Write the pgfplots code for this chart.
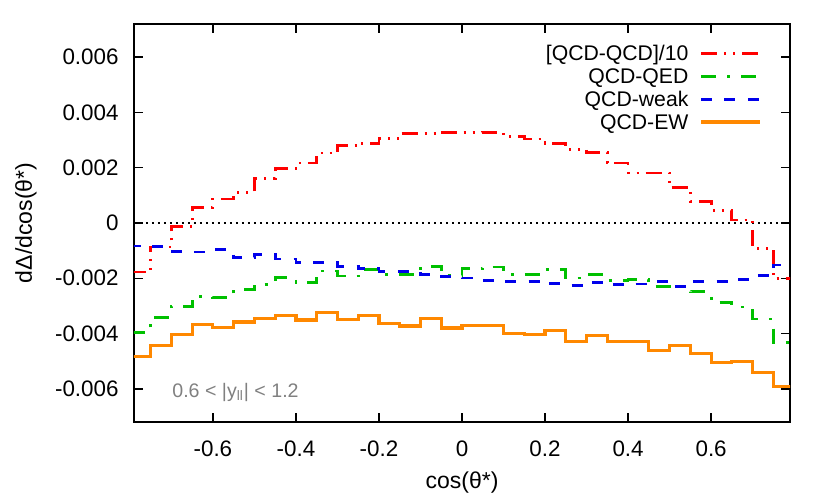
\documentclass[border=0pt]{standalone}
\usepackage{pgfplots}
\usepackage{pgfplotstable}
\pgfplotsset{compat=1.18}
\usepackage{fontspec}
\setmainfont{Liberation Sans}
\definecolor{cred}{RGB}{255,0,0}
\definecolor{cgreen}{RGB}{0,192,0}
\definecolor{cblue}{RGB}{0,0,235}
\definecolor{corange}{RGB}{255,136,0}
\definecolor{cgray}{RGB}{128,128,128}

\pgfplotstableread{
x red green blue orange
-0.80 -0.00177 -0.00397 -0.00083 -0.00484
-0.75 -0.00087 -0.00341 -0.00086 -0.00443
-0.70 -0.00014 -0.00301 -0.00102 -0.00404
-0.65 0.00057 -0.00265 -0.00105 -0.00368
-0.60 0.00087 -0.00270 -0.00097 -0.00378
-0.55 0.00111 -0.00242 -0.00126 -0.00358
-0.50 0.00161 -0.00222 -0.00115 -0.00346
-0.45 0.00197 -0.00198 -0.00130 -0.00334
-0.40 0.00217 -0.00216 -0.00144 -0.00351
-0.35 0.00253 -0.00174 -0.00144 -0.00324
-0.30 0.00280 -0.00192 -0.00156 -0.00350
-0.25 0.00289 -0.00169 -0.00165 -0.00336
-0.20 0.00307 -0.00187 -0.00176 -0.00363
-0.15 0.00323 -0.00187 -0.00176 -0.00373
-0.10 0.00323 -0.00157 -0.00185 -0.00346
-0.05 0.00328 -0.00191 -0.00194 -0.00380
0.00 0.00326 -0.00166 -0.00199 -0.00371
0.05 0.00328 -0.00159 -0.00207 -0.00371
0.10 0.00313 -0.00187 -0.00211 -0.00401
0.15 0.00304 -0.00187 -0.00211 -0.00404
0.20 0.00289 -0.00169 -0.00220 -0.00389
0.25 0.00267 -0.00199 -0.00225 -0.00428
0.30 0.00255 -0.00187 -0.00214 -0.00406
0.35 0.00217 -0.00207 -0.00223 -0.00428
0.40 0.00181 -0.00205 -0.00221 -0.00428
0.45 0.00181 -0.00229 -0.00213 -0.00462
0.50 0.00127 -0.00229 -0.00231 -0.00442
0.55 0.00078 -0.00249 -0.00211 -0.00472
0.60 0.00045 -0.00287 -0.00211 -0.00504
0.65 0.00011 -0.00304 -0.00205 -0.00501
0.70 -0.00092 -0.00347 -0.00191 -0.00542
0.75 -0.00202 -0.00431 -0.00152 -0.00593
0.80 -0.00202 -0.00431 -0.00152 -0.00593
}\datatable

\begin{document}
\begin{tikzpicture}
\begin{axis}[
  name=ax,
  anchor=south west, at={(0pt,0pt)},
  scale only axis, width=328pt, height=199pt,
  xmin=-0.79, xmax=0.79, ymin=-0.0072, ymax=0.0072,
  axis line style={line width=0.7pt},
  every tick/.style={black, line width=0.7pt},
  major tick length=4.5pt,
  tick align=inside,
  xtick={-0.6,-0.4,-0.2,0,0.2,0.4,0.6},
  xticklabels={-0.6,-0.4,-0.2,0,0.2,0.4,0.6},
  ytick={-0.006,-0.004,-0.002,0,0.002,0.004,0.006},
  yticklabels={-0.006,-0.004,-0.002,0,0.002,0.004,0.006},
  scaled y ticks=false, scaled x ticks=false,
  tick label style={font=\fontsize{11.2}{13}\selectfont},
  xticklabel style={anchor=base, yshift=-17pt},
  yticklabel style={anchor=east, inner sep=0pt, xshift=-7.5pt},
  legend style={draw=none, fill=none, at={(1,1)}, anchor=north east,
    xshift=-14pt, yshift=-9.2pt, inner sep=0pt, row sep=0.85pt,
    column sep=5.5pt, font=\fontsize{10.6}{13}\selectfont,
    nodes={inner sep=0pt}},
  legend cell align=right,
  legend plot pos=right,
  legend image code/.code={\draw[#1] (0pt,0pt) -- (29.5pt,0pt);},
]
\addplot[black, line width=0.9pt, dash pattern=on 0.9pt off 2.1pt, forget plot]
  coordinates {(-0.79,0) (0.79,0)};
\addplot[const plot, cred, line width=1.4pt,
  dash pattern=on 8pt off 3.5pt on 1pt off 3.5pt on 1pt off 3.5pt]
  table[x=x, y=red] {\datatable};
\addlegendentry{\strut [QCD-QCD]/10}
\addplot[const plot, cgreen, line width=1.4pt,
  dash pattern=on 7.5pt off 5.5pt on 1.5pt off 5.5pt]
  table[x=x, y=green] {\datatable};
\addlegendentry{\strut QCD-QED}
\addplot[const plot, cblue, line width=1.4pt,
  dash pattern=on 5.5pt off 6.2pt]
  table[x=x, y=blue] {\datatable};
\addlegendentry{\strut QCD-weak}
\addplot[const plot, corange, line width=1.6pt]
  table[x=x, y=orange] {\datatable};
\addlegendentry{\strut QCD-EW}
\end{axis}
\node[anchor=base, font=\fontsize{11.5}{13}\selectfont] at (164pt,-33pt) {cos(θ*)};
\node[rotate=90, anchor=base, font=\fontsize{11.5}{13}\selectfont] at (-51pt,99.5pt) {dΔ/dcos(θ*)};
\node[anchor=base west, inner sep=0pt, text=cgray, font=\fontsize{9.8}{11}\selectfont] at (19pt,12.5pt) {0.6 < |y\textsubscript{ll}| < 1.2};
\pgfresetboundingbox
\path (-67pt,-38pt) rectangle (348pt,211pt);
\end{tikzpicture}
\end{document}
